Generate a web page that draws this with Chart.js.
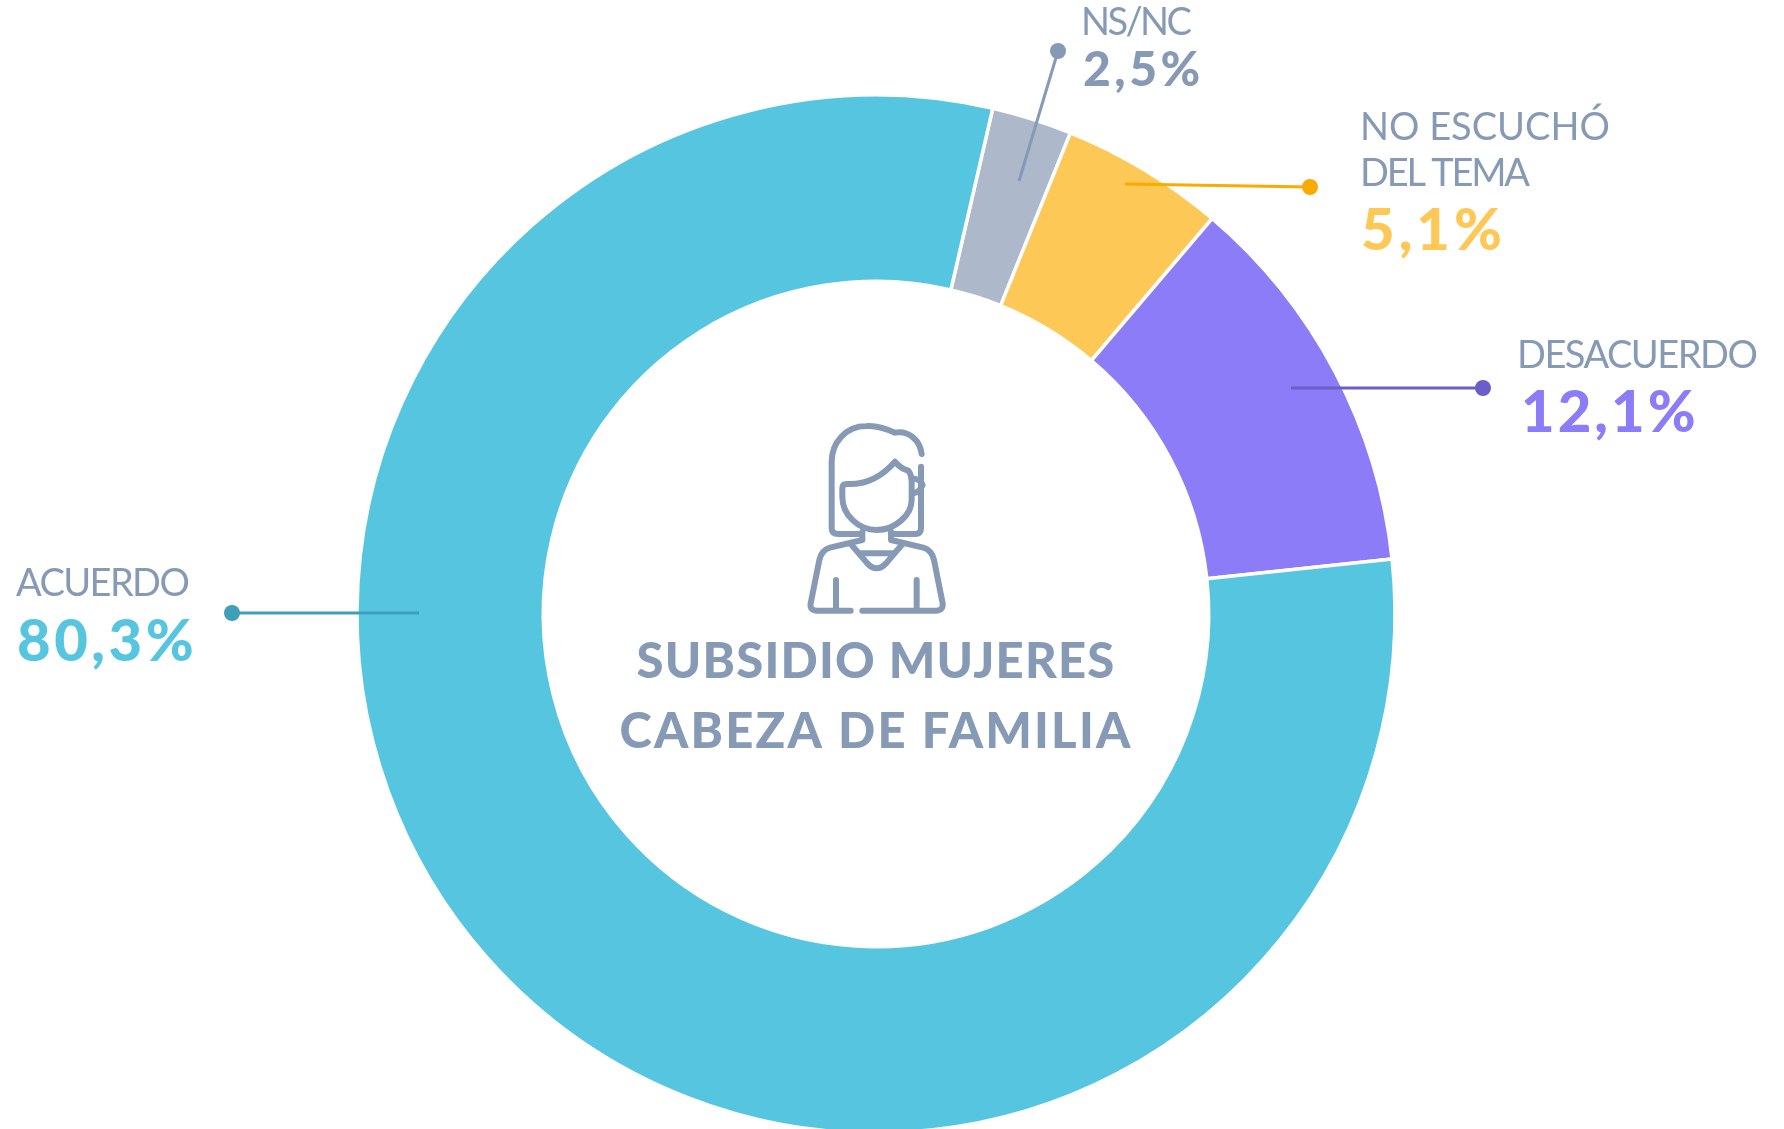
<!DOCTYPE html>
<html lang="es">
<head>
  <meta charset="UTF-8">
  <title>Subsidio mujeres cabeza de familia</title>
  <script src="https://cdn.jsdelivr.net/npm/chart.js"></script>
  <style>
    html, body { margin: 0; padding: 0; background: #fff; overflow: hidden; }
    #wrap { position: relative; width: 1784px; height: 1129px; overflow: hidden; }
    #chart { position: absolute; left: 0; top: 0; }
  </style>
</head>
<body>
  <div id="wrap"><canvas id="chart" width="1784" height="1228"></canvas></div>
  <script>
    // starts at the NS/NC slice, clockwise
    const categories = ['NS/NC', 'NO ESCUCHÓ DEL TEMA', 'DESACUERDO', 'ACUERDO'];
    const values = [2.5, 5.1, 12.1, 80.3];
    const sliceColors = ['#adb8ca', '#fdc855', '#8c7cf8', '#56c5e0'];
    const centerLines = ['SUBSIDIO MUJERES', 'CABEZA DE FAMILIA'];

    const grey = '#869ab5';
    const sans = 'Lato, "Open Sans", sans-serif';

    // label lines (text, x, y, spacing), percent position and leader line for each slice
    const callouts = [
      { lines: [['NS/NC', 1081, 35, -2.6]], pct: [1083, 86], pctSize: 48, pctGap: 3.5, color: grey, lead: '#869ab5', from: [1019, 181], dot: [1058, 51] },
      { lines: [['NO ESCUCHÓ', 1360, 140, 0], ['DEL TEMA', 1360, 186, -2.2]], pct: [1361, 250], pctSize: 58, pctGap: 4, color: '#fdc855', lead: '#f9ab00', from: [1125, 184], dot: [1310, 187] },
      { lines: [['DESACUERDO', 1517, 368, -1.5]], pct: [1521, 432], pctSize: 58, pctGap: 3, color: '#8c7cf8', lead: '#6a5fc8', from: [1291, 388], dot: [1483, 388] },
      { lines: [['ACUERDO', 16, 596, -1.6]], pct: [17, 661], pctSize: 58, pctGap: 3.5, color: '#56c5e0', lead: '#3f9fb8', from: [419, 613], dot: [232, 613] }
    ];

    // woman icon, in a 3x local grid
    const iconPath = new Path2D(
      'M425 162C420 120 385 90 345 98C310 82 285 76 260 78C195 78 155 130 155 185L155 385Q155 402 175 402L245 402' +
      'M423 200L423 385Q423 402 405 402L335 402' +
      'M187 265Q187 252 200 252C260 255 310 225 345 185Q360 205 385 212Q395 225 395 250L395 300C395 345 345 390 290 390C235 390 187 345 187 290Z' +
      'M400 235Q425 240 428 255Q420 275 400 280' +
      'M247 395L247 420L150 443Q125 450 118 480L92 610Q88 632 112 632L212 632' +
      'M333 395L333 420L430 443Q455 450 462 480L488 610Q490 632 468 632L247 632' +
      'M215 435L262 490Q290 520 318 490L365 435' +
      'M240 460L340 460' +
      'M168 540L168 630M410 540L410 630'
    );

    const overlay = {
      id: 'overlay',
      afterDraw(chart) {
        const ctx = chart.ctx;
        ctx.save();
        ctx.textBaseline = 'alphabetic';
        ctx.textAlign = 'left';

        callouts.forEach((c, i) => {
          ctx.strokeStyle = c.lead;
          ctx.fillStyle = c.lead;
          ctx.lineWidth = 3;
          ctx.beginPath();
          ctx.moveTo(c.from[0], c.from[1]);
          ctx.lineTo(c.dot[0], c.dot[1]);
          ctx.stroke();
          ctx.beginPath();
          ctx.arc(c.dot[0], c.dot[1], 8, 0, Math.PI * 2);
          ctx.fill();

          ctx.fillStyle = grey;
          ctx.font = '400 38px ' + sans;
          c.lines.forEach(l => {
            ctx.letterSpacing = l[3] + 'px';
            ctx.fillText(l[0], l[1], l[2]);
          });

          ctx.fillStyle = c.color;
          ctx.font = '900 ' + c.pctSize + 'px ' + sans;
          ctx.letterSpacing = c.pctGap + 'px';
          ctx.fillText(String(values[i]).replace('.', ',') + '%', c.pct[0], c.pct[1]);
        });

        ctx.fillStyle = grey;
        ctx.font = '900 49px ' + sans;
        ctx.textAlign = 'center';
        ctx.letterSpacing = '1.2px';
        ctx.fillText(centerLines[0], 876, 678);
        ctx.letterSpacing = '2.2px';
        ctx.fillText(centerLines[1], 876, 748);
        ctx.letterSpacing = '0px';

        ctx.translate(780, 400);
        ctx.scale(1 / 3, 1 / 3);
        ctx.strokeStyle = grey;
        ctx.lineWidth = 18;
        ctx.lineCap = 'round';
        ctx.lineJoin = 'round';
        ctx.stroke(iconPath);
        ctx.restore();
      }
    };

    new Chart(document.getElementById('chart'), {
      type: 'doughnut',
      data: {
        labels: categories,
        datasets: [{
          data: values,
          backgroundColor: sliceColors,
          borderColor: '#ffffff',
          borderWidth: 3.5,
          radius: 519,
          cutout: '64.1%'
        }]
      },
      options: {
        responsive: false,
        animation: false,
        rotation: 13,
        layout: { padding: { right: 32 } },
        plugins: { legend: { display: false }, tooltip: { enabled: false } }
      },
      plugins: [overlay]
    });
  </script>
</body>
</html>
